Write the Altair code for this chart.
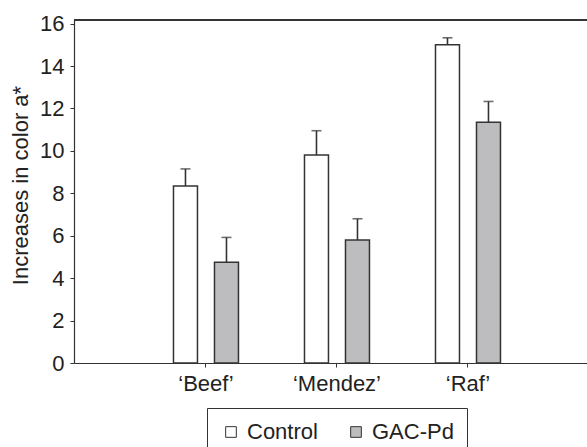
import altair as alt
import pandas as pd

categories = ["‘Beef’", "‘Mendez’", "‘Raf’"]
series = ["Control", "GAC-Pd"]
control = [8.35, 9.8, 15.0]
control_err = [0.8, 1.15, 0.33]
gac = [4.75, 5.8, 11.35]
gac_err = [1.17, 1.0, 0.98]

rows = []
for i, c in enumerate(categories):
    rows.append({"cat": c, "series": "Control", "value": control[i], "err": control_err[i]})
    rows.append({"cat": c, "series": "GAC-Pd", "value": gac[i], "err": gac_err[i]})
df = pd.DataFrame(rows)

FONT = "Liberation Sans"
LINE = "#333333"
FS = 22

x = alt.X("cat:N", sort=categories, title=None,
          scale=alt.Scale(paddingInner=0, paddingOuter=0.458, align=0.554),
          axis=alt.Axis(labelAngle=0, labelFontSize=FS, labelFont=FONT, labelColor="#222222",
                        tickSize=4, tickColor=LINE, domainColor=LINE, domainWidth=1.2,
                        labelPadding=6))
xo = alt.XOffset("series:N", sort=series,
                 scale=alt.Scale(paddingInner=0.415, paddingOuter=0.805))
y = alt.Y("value:Q", title="Increases in color a*",
          scale=alt.Scale(domain=[0, 16.17], nice=False),
          axis=alt.Axis(values=list(range(0, 17, 2)), grid=False, labelFontSize=FS, labelFont=FONT,
                        labelColor="#222222", titleFontSize=FS, titleFont=FONT, titleColor="#222222",
                        titleFontWeight="normal", tickSize=4, tickColor=LINE, domainColor=LINE,
                        domainWidth=1.2, labelPadding=6, titlePadding=7, titleY=165))

base = alt.Chart(df)

bars = base.mark_bar(stroke=LINE, strokeWidth=1.5).encode(
    x=x, xOffset=xo, y=y,
    color=alt.Color("series:N", sort=series,
                    scale=alt.Scale(domain=series, range=["#ffffff", "#bdbdc0"]),
                    legend=alt.Legend(title=None, orient="none", legendX=133, legendY=388,
                                      direction="horizontal", symbolType="square",
                                      symbolSize=114, symbolStrokeColor=LINE,
                                      symbolStrokeWidth=1, labelFontSize=FS, labelFont=FONT,
                                      labelColor="#222222", columnPadding=27, labelOffset=5,
                                      padding=13, strokeColor=LINE, fillColor="#ffffff")),
)

err_rule = base.mark_rule(color=LINE, strokeWidth=1.6).encode(
    x=x, xOffset=xo, y="value:Q", y2="top:Q"
).transform_calculate(top="datum.value + datum.err")

caps = base.mark_tick(color=LINE, thickness=1.6, size=10, orient="horizontal").encode(
    x=x, xOffset=xo, y="top:Q"
).transform_calculate(top="datum.value + datum.err")

frame = alt.Chart(df).mark_rule(color=LINE, strokeWidth=1.2).encode(y=alt.datum(16.17))

chart = alt.layer(bars, err_rule, caps, frame).properties(
    width=513, height=343,
    autosize=alt.AutoSizeParams(type="none"),
    padding={"left": 74, "top": 20, "right": 0, "bottom": 84},
).configure_view(strokeWidth=0)

chart.save("out.html", embed_options={"renderer": "svg", "actions": False})
